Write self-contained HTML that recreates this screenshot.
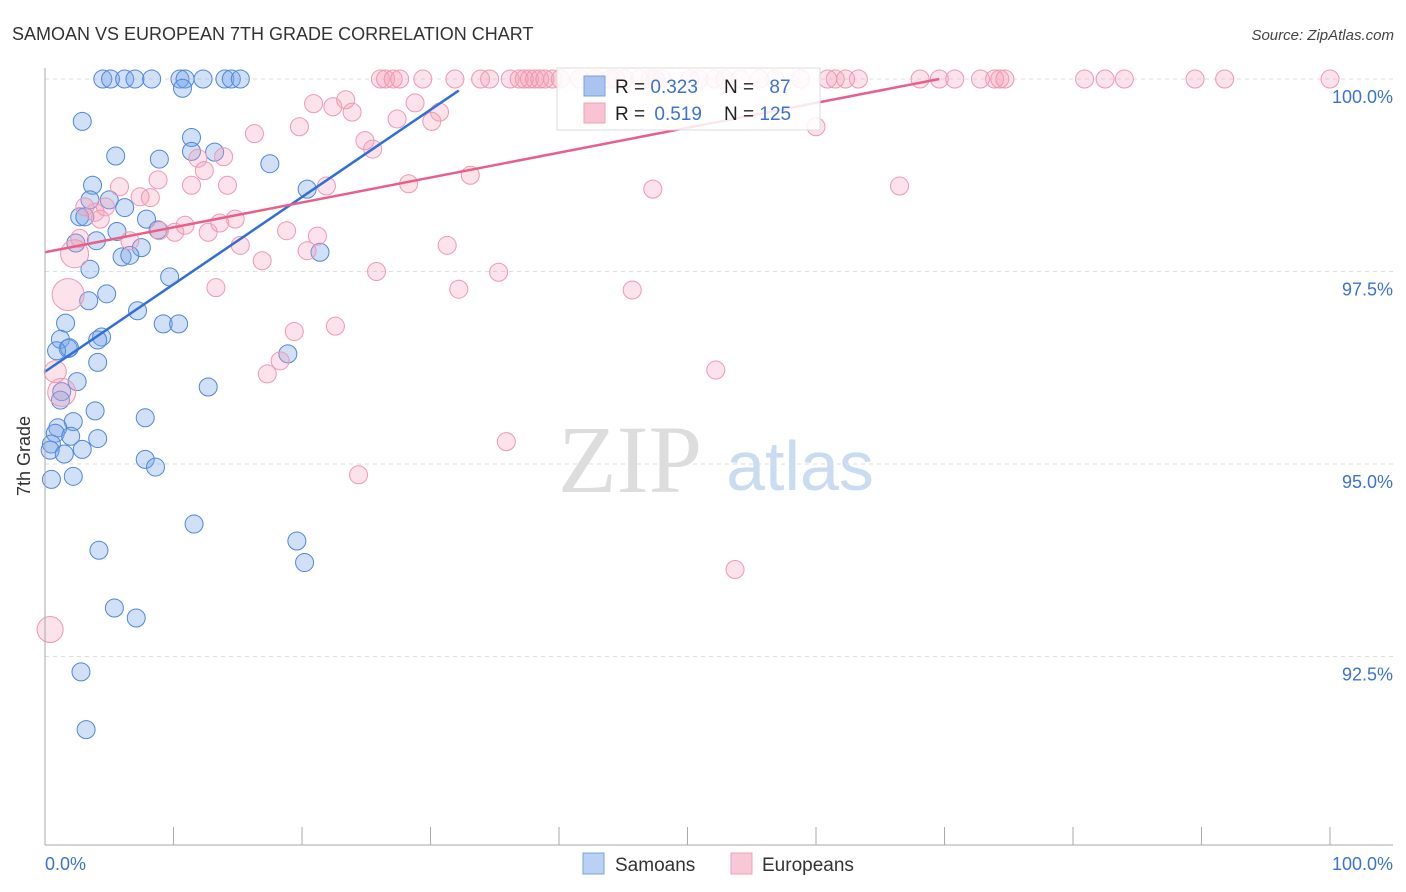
<!DOCTYPE html>
<html><head><meta charset="utf-8"><style>
body{margin:0;background:#fff;font-family:"Liberation Sans",sans-serif}
svg{display:block}
</style></head><body>
<svg id="c" width="1406" height="892">
<text x="12" y="40" font-size="18" fill="#333">SAMOAN VS EUROPEAN 7TH GRADE CORRELATION CHART</text>
<text x="1394" y="40" font-size="15" fill="#444" font-style="italic" text-anchor="end">Source: ZipAtlas.com</text>
<text x="630" y="492" font-size="96" fill="#ddd" font-family="Liberation Serif,serif" text-anchor="middle">ZIP</text>
<text x="800" y="490" font-size="70" fill="#c9dcf2" text-anchor="middle">atlas</text>
<g id="grid"></g><g id="pts"></g><g id="lines"></g>
<line x1="45" y1="68" x2="45" y2="845" stroke="#aaa"/>
<line x1="45" y1="845" x2="1393" y2="845" stroke="#aaa"/>
<text x="30" y="456" font-size="18" fill="#333" transform="rotate(-90 30 456)" text-anchor="middle">7th Grade</text>
<text x="45" y="870" font-size="18" fill="#3b73d1">0.0%</text>
<text x="1393" y="870" font-size="18" fill="#3b73d1" text-anchor="end">100.0%</text>
<g>
<rect x="557" y="68" width="263" height="62" fill="rgba(255,255,255,0.85)" stroke="#ddd"/>
<rect x="584" y="76" width="21" height="20" fill="#a9c4ee" stroke="#7aa0e0"/>
<rect x="584" y="103" width="21" height="20" fill="#f9c3d3" stroke="#f0a0b8"/>
<text x="615" y="93" font-size="19" fill="#222">R = <tspan fill="#3b73d1">0.323</tspan></text>
<text x="724" y="93" font-size="19" fill="#222">N = <tspan fill="#3b73d1" dx="10">87</tspan></text>
<text x="615" y="120" font-size="19" fill="#222">R = <tspan fill="#3b73d1" dx="4">0.519</tspan></text>
<text x="724" y="120" font-size="19" fill="#222">N = <tspan fill="#3b73d1">125</tspan></text>
</g>
<g><rect x="583" y="853" width="21" height="21" fill="#b9d1f3" stroke="#7aa0e0"/><text x="615" y="871" font-size="19" fill="#333">Samoans</text></g>
<g><rect x="731" y="853" width="21" height="21" fill="#f9c8d6" stroke="#f0a0b8"/><text x="762" y="871" font-size="19" fill="#333">Europeans</text></g>
</svg>
<script>
const yTicks=[100,97.5,95,92.5];
const yTickLabels=["100.0%","97.5%","95.0%","92.5%"];
const xTicks=[0,10,20,30,40,50,60,70,80,90,100];
const samoanX=[4.5,5.1,6.2,7,8.3,10.5,10.9,12.3,14,14.5,15.2,10.7,2.9,11.4,5.5,8.9,11.4,13.2,17.5,3.7,20.4,3.5,5,6.2,2.7,7.9,3.1,8.8,5.6,2.4,4,7.5,6,6.6,21.4,3.5,9.7,4.8,3.4,7.2,1.6,9.2,10.4,4.4,4.1,1.2,1.8,1.9,0.9,18.9,4.1,2.5,12.7,1.3,1.2,3.9,7.8,2.2,1,0.8,2,4.1,2.9,0.5,0.4,1.5,7.8,8.6,2.2,0.5,11.6,19.6,4.2,20.2,5.4,7.1,2.8,3.2];
const samoanY=[100,100,100,100,100,100,100,100,100,100,100,99.88,99.45,99.24,99,98.96,99.06,99.05,98.9,98.62,98.57,98.43,98.43,98.33,98.21,98.18,98.21,98.04,98.02,97.87,97.9,97.81,97.69,97.71,97.75,97.53,97.43,97.21,97.12,96.99,96.83,96.82,96.82,96.65,96.61,96.62,96.5,96.51,96.47,96.43,96.32,96.07,96,95.94,95.83,95.69,95.6,95.55,95.47,95.4,95.36,95.33,95.19,95.26,95.18,95.13,95.06,94.96,94.84,94.8,94.22,94,93.88,93.72,93.13,93,92.3,91.55];
const europeanX=[26.1,26.5,27.1,27.6,29.4,31.9,33.9,34.6,36.2,36.9,37.3,37.7,38.1,38.5,38.9,39.5,40.1,41.6,42.8,44,44.4,45.1,46.3,47.1,47.5,48,50.2,50.9,52.1,52.9,54.1,55.6,56.8,58.8,60.9,61.5,62.3,63.3,68.1,69.6,70.8,72.8,73.9,74.3,74.7,80.9,82.5,84,89.5,91.8,100,
20.9,22.4,23.4,23.9,19.8,16.3,28.8,30.7,30.1,24.9,25.5,13.9,11.9,12.4,27.4,60,47.3,66.5,33.1,28.3,21.9,8.8,11.4,14.2,5.8,7.4,8.2,4.7,3.9,3.1,4.3,10.1,8.9,10.9,12.7,14.8,13.6,6.6,2.7,2.3,18.8,21.2,20.4,15.2,31.3,16.9,25.8,35.3,13.3,32.2,45.7,1.8,22.6,19.4,18.3,17.3,1.3,52.2,0.8,35.9,24.4,53.7,0.4];
const europeanY=[100,100,100,100,100,100,100,100,100,100,100,100,100,100,100,100,100,100,100,100,100,100,100,100,100,100,100,100,100,100,100,100,100,100,100,100,100,100,100,100,100,100,100,100,100,100,100,100,100,100,100,
99.68,99.64,99.73,99.57,99.38,99.29,99.69,99.57,99.45,99.2,99.09,98.99,98.97,98.81,99.48,99.38,98.57,98.61,98.75,98.64,98.61,98.69,98.62,98.62,98.6,98.47,98.46,98.34,98.27,98.34,98.18,98.01,98.03,98.1,98.01,98.18,98.13,97.9,97.93,97.73,98.03,97.96,97.77,97.84,97.84,97.64,97.5,97.49,97.29,97.27,97.26,97.2,96.79,96.72,96.34,96.17,95.93,96.22,96.2,95.29,94.86,93.63,92.85];
const europeanR={90:14,102:16,107:14,109:11,113:13};
const blueLine=[[0,96.2],[32.2,99.85]];
const pinkLine=[[0,97.75],[69.6,100]];
const X=v=>45+v*12.85, Y=v=>79+(100-v)*77;
const NS="http://www.w3.org/2000/svg";
function mk(t,a,p){const e=document.createElementNS(NS,t);for(const k in a)e.setAttribute(k,a[k]);p.appendChild(e);return e;}
const grid=document.getElementById('grid'),pts=document.getElementById('pts'),lines=document.getElementById('lines'),svg=document.getElementById('c');
yTicks.forEach((v,i)=>{
 const l=mk('line',{x1:45,x2:1393,y1:Y(v),y2:Y(v),stroke:'#ddd','stroke-dasharray':'4,4'},grid);
 
 
 const t=mk('text',{x:1393,y:Y(v)+24,'font-size':18,fill:'#3b73d1','text-anchor':'end'},svg);
 t.textContent=yTickLabels[i];
 
 
});
xTicks.forEach(v=>{
 const l=mk('line',{x1:X(v),x2:X(v),y1:827,y2:845,stroke:'#aaa'},svg);
 
 
});
samoanX.forEach((x,i)=>{
 const c=mk('circle',{cx:X(x),cy:Y(samoanY[i]),r:9,fill:'rgba(120,165,230,0.35)',stroke:'#4f86dc','stroke-width':1},pts);
 
 
});
europeanX.forEach((x,i)=>{
 const c=mk('circle',{cx:X(x),cy:Y(europeanY[i]),r:europeanR[i]||9,fill:'rgba(245,160,185,0.3)',stroke:'#ef98b2','stroke-width':1},pts);
 
 
});
const b=mk('line',{x1:X(blueLine[0][0]),y1:Y(blueLine[0][1]),x2:X(blueLine[1][0]),y2:Y(blueLine[1][1]),stroke:'#2f6fd6','stroke-width':2.5},lines);


const p=mk('line',{x1:X(pinkLine[0][0]),y1:Y(pinkLine[0][1]),x2:X(pinkLine[1][0]),y2:Y(pinkLine[1][1]),stroke:'#e8608a','stroke-width':2.5},lines);


</script>
</body></html>
